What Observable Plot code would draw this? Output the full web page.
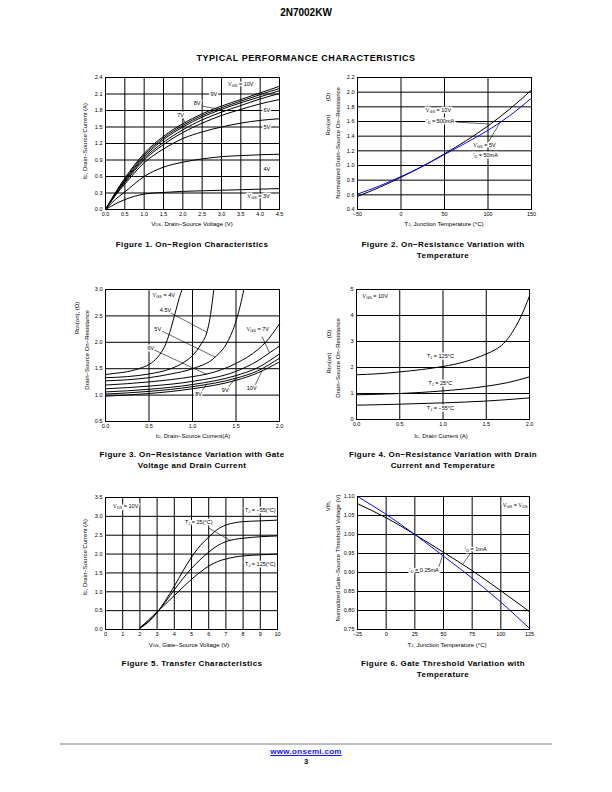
<!DOCTYPE html>
<html><head><meta charset="utf-8">
<script src="https://cdn.jsdelivr.net/npm/d3@7"></script>
<script src="https://cdn.jsdelivr.net/npm/@observablehq/plot@0.6"></script>
<style>
body{margin:0;background:#fff;}
#page{position:relative;width:612px;height:792px;font-family:"Liberation Sans",Arial,Helvetica,sans-serif;color:#000;overflow:hidden;background:#fff}
.abs{position:absolute;white-space:nowrap;line-height:1}
</style></head><body><div id="page"></div>
<script>
// ---------------- DATA ----------------
// Figure 1: ID vs VDS for several VGS
const f1VDS = [0, 0.25, 0.5, 1.0, 1.5, 2.0, 2.5, 3.0, 3.5, 4.0, 4.5];
const f1VGS = ["10V", "9V", "8V", "7V", "6V", "5V", "4V", "3V"];
const f1ID_10V = [0, 0.30, 0.57, 1.02, 1.33, 1.56, 1.74, 1.88, 2.00, 2.12, 2.24];
const f1ID_9V  = [0, 0.29, 0.55, 0.99, 1.30, 1.53, 1.71, 1.85, 1.97, 2.09, 2.20];
const f1ID_8V  = [0, 0.28, 0.53, 0.96, 1.27, 1.50, 1.68, 1.82, 1.94, 2.05, 2.16];
const f1ID_7V  = [0, 0.27, 0.51, 0.93, 1.22, 1.45, 1.63, 1.77, 1.89, 2.01, 2.11];
const f1ID_6V  = [0, 0.26, 0.49, 0.90, 1.18, 1.40, 1.57, 1.71, 1.82, 1.92, 2.00];
const f1ID_5V  = [0, 0.25, 0.46, 0.85, 1.10, 1.29, 1.41, 1.50, 1.57, 1.62, 1.65];
const f1ID_4V  = [0, 0.18, 0.32, 0.60, 0.77, 0.86, 0.92, 0.96, 0.98, 0.995, 1.005];
const f1ID_3V  = [0, 0.10, 0.18, 0.28, 0.31, 0.33, 0.34, 0.35, 0.36, 0.37, 0.38];
const f1Series = [f1ID_10V, f1ID_9V, f1ID_8V, f1ID_7V, f1ID_6V, f1ID_5V, f1ID_4V, f1ID_3V];

// Figure 2: normalized RDS(on) vs TJ
const f2TJ = [-50, -25, 0, 25, 50, 75, 100, 125, 150];
const f2R_10V_500mA = [0.58, 0.70, 0.84, 0.99, 1.16, 1.34, 1.54, 1.77, 2.03];
const f2R_5V_50mA   = [0.61, 0.72, 0.85, 0.99, 1.15, 1.31, 1.48, 1.68, 1.92];

// Figure 3: RDS(on) vs ID for several VGS  ([ID, R] pairs)
const f3_4V   = [[0,1.39],[0.1,1.41],[0.2,1.43],[0.3,1.46],[0.4,1.51],[0.5,1.58],[0.6,1.72],[0.7,2.0],[0.75,2.25],[0.8,2.55],[0.85,2.85],[0.88,3.0]];
const f3_4p5V = [[0,1.33],[0.25,1.35],[0.5,1.40],[0.75,1.50],[0.9,1.62],[1.0,1.75],[1.1,1.97],[1.167,2.2],[1.2,2.45],[1.23,2.8],[1.245,3.0]];
const f3_5V   = [[0,1.27],[0.25,1.29],[0.5,1.33],[0.75,1.40],[1.0,1.50],[1.26,1.72],[1.4,2.0],[1.5,2.4],[1.55,2.7],[1.59,3.0]];
const f3_6V   = [[0,1.19],[0.5,1.25],[1.0,1.35],[1.167,1.40],[1.5,1.60],[1.75,1.86],[1.84,2.0],[2.0,2.35]];
const f3_7V   = [[0,1.12],[0.5,1.17],[1.0,1.26],[1.5,1.45],[1.75,1.65],[1.885,1.80],[2.0,1.93]];
const f3_8V   = [[0,1.06],[0.5,1.11],[1.0,1.20],[1.5,1.37],[1.75,1.52],[2.0,1.78]];
const f3_9V   = [[0,1.02],[0.5,1.07],[1.0,1.16],[1.5,1.32],[1.75,1.46],[2.0,1.70]];
const f3_10V  = [[0,0.98],[0.5,1.03],[1.0,1.12],[1.5,1.28],[1.75,1.42],[2.0,1.63]];
const f3Series = [f3_4V, f3_4p5V, f3_5V, f3_6V, f3_7V, f3_8V, f3_9V, f3_10V];

// Figure 4: RDS(on) vs ID for three temperatures ([ID, R] pairs)
const f4_125C = [[0,1.72],[0.25,1.76],[0.5,1.83],[0.75,1.92],[1.0,2.04],[1.25,2.22],[1.5,2.52],[1.6,2.68],[1.7,2.92],[1.8,3.35],[1.9,3.95],[2.0,4.75]];
const f4_25C  = [[0,0.95],[0.5,1.00],[1.0,1.10],[1.5,1.28],[1.75,1.42],[2.0,1.64]];
const f4_m55C = [[0,0.55],[0.5,0.59],[1.0,0.64],[1.5,0.71],[2.0,0.83]];
const f4Series = [f4_125C, f4_25C, f4_m55C];

// Figure 5: transfer characteristics
const f5VGS = [2, 2.5, 3, 3.5, 4, 4.5, 5, 5.5, 6, 6.5, 7, 7.5, 8, 9, 10];
const f5ID_m55C = [0.03, 0.20, 0.45, 0.78, 1.15, 1.55, 1.92, 2.22, 2.45, 2.65, 2.77, 2.83, 2.86, 2.88, 2.90];
const f5ID_25C  = [0.04, 0.22, 0.45, 0.74, 1.05, 1.35, 1.62, 1.85, 2.05, 2.22, 2.33, 2.39, 2.42, 2.46, 2.48];
const f5ID_125C = [0.05, 0.25, 0.47, 0.68, 0.90, 1.12, 1.33, 1.52, 1.68, 1.80, 1.87, 1.92, 1.95, 1.98, 2.00];
const f5Series = [f5ID_m55C, f5ID_25C, f5ID_125C];

// Figure 6: normalized Vth vs TJ
const f6TJ = [-25, 0, 25, 50, 75, 100, 125];
const f6Vth_1mA    = [1.081, 1.044, 1.0, 0.953, 0.905, 0.852, 0.797];
const f6Vth_0p25mA = [1.100, 1.053, 1.0, 0.943, 0.885, 0.822, 0.753];

// Tick values
const f1XTicks = [0, 0.5, 1.0, 1.5, 2.0, 2.5, 3.0, 3.5, 4.0, 4.5];
const f1YTicks = [0, 0.3, 0.6, 0.9, 1.2, 1.5, 1.8, 2.1, 2.4];
const f2XTicks = [-50, 0, 50, 100, 150];
const f2YTicks = [0.4, 0.6, 0.8, 1.0, 1.2, 1.4, 1.6, 1.8, 2.0, 2.2];
const f3XTicks = [0, 0.5, 1.0, 1.5, 2.0];
const f3YTicks = [0.5, 1.0, 1.5, 2.0, 2.5, 3.0];
const f4XTicks = [0, 0.5, 1.0, 1.5, 2.0];
const f4YTicks = [0, 1, 2, 3, 4, 5];
const f5XTicks = [0, 1, 2, 3, 4, 5, 6, 7, 8, 9, 10];
const f5YTicks = [0, 0.5, 1.0, 1.5, 2.0, 2.5, 3.0, 3.5];
const f6XTicks = [-25, 0, 25, 50, 75, 100, 125];
const f6YTicks = [0.75, 0.80, 0.85, 0.90, 0.95, 1.00, 1.05, 1.10];

// Annotations (data coordinates)
const f1Notes = [
  {x: 3.50, y: 2.28, t: "V_{GS} = 10V"}, {x: 2.80, y: 2.09, t: "9V"}, {x: 2.37, y: 1.93, t: "8V"},
  {x: 1.94, y: 1.72, t: "7V"}, {x: 4.17, y: 1.81, t: "6V"}, {x: 4.17, y: 1.49, t: "5V"},
  {x: 4.17, y: 0.73, t: "4V"}, {x: 3.96, y: 0.24, t: "V_{GS} = 3V"}];
const f1Leaders = [{x1: 2.50, y1: 1.88, x2: 2.97, y2: 1.82}, {x1: 2.0, y1: 1.65, x2: 2.09, y2: 1.56}];
const f2Notes = [
  {x: 43, y: 1.75, t: "V_{GS} = 10V"}, {x: 45, y: 1.61, t: "I_{D} = 500mA"},
  {x: 96, y: 1.27, t: "V_{GS} = 5V"}, {x: 97, y: 1.14, t: "I_{D} = 50mA"}];
const f2Leaders = [{x1: 64, y1: 1.59, x2: 101, y2: 1.567}, {x1: 101, y1: 1.33, x2: 114, y2: 1.59}];
const f3Notes = [
  {x: 0.67, y: 2.90, t: "V_{GS} = 4V"}, {x: 0.69, y: 2.60, t: "4.5V"}, {x: 0.60, y: 2.24, t: "5V"},
  {x: 0.52, y: 1.89, t: "6V"}, {x: 1.75, y: 2.24, t: "V_{GS} = 7V"}, {x: 1.07, y: 1.01, t: "8V"},
  {x: 1.376, y: 1.10, t: "9V"}, {x: 1.68, y: 1.13, t: "10V"}];
const f3Leaders = [
  {x1: 0.745, y1: 2.56, x2: 1.167, y2: 2.19}, {x1: 0.65, y1: 2.21, x2: 1.262, y2: 1.72},
  {x1: 0.555, y1: 1.86, x2: 1.167, y2: 1.39}, {x1: 1.80, y1: 2.11, x2: 1.885, y2: 1.80},
  {x1: 1.10, y1: 1.06, x2: 1.167, y2: 1.22}, {x1: 1.41, y1: 1.15, x2: 1.49, y2: 1.31},
  {x1: 1.72, y1: 1.19, x2: 1.80, y2: 1.46}];
const f4Notes = [
  {x: 0.97, y: 2.44, t: "T_{J} = 125°C"}, {x: 0.97, y: 1.41, t: "T_{J} = 25°C"}, {x: 0.97, y: 0.42, t: "T_{J} = −55°C"}];
const f4NotesStart = [{x: 0.07, y: 4.74, t: "V_{GS} = 10V"}];
const f5Notes = [
  {x: 9.0, y: 3.15, t: "T_{J} = −55(°C)"}, {x: 5.42, y: 2.84, t: "T_{J} = 25(°C)"}, {x: 9.0, y: 1.72, t: "T_{J} = 125(°C)"}];
const f5NotesStart = [{x: 0.45, y: 3.28, t: "V_{DS} = 10V"}];
const f5Leaders = [{x1: 6.0, y1: 2.69, x2: 7.29, y2: 2.35}];
const f6Notes = [
  {x: 112.6, y: 1.076, t: "V_{GS} = V_{DS}"}, {x: 78, y: 0.962, t: "I_{D} = 1mA"}, {x: 33, y: 0.907, t: "I_{D} = 0.25mA"}];
const f6Leaders = [{x1: 73.5, y1: 0.951, x2: 67.1, y2: 0.923}, {x1: 46, y1: 0.915, x2: 49, y2: 0.944}];

// ---------------- RENDER ----------------
const FONT = "'Liberation Sans', Arial, Helvetica, sans-serif";
const page = document.getElementById("page");
const NS = "http://www.w3.org/2000/svg";

function richify(root) {
  root.querySelectorAll("text, tspan").forEach(el => {
    if (el.children.length) return;
    const s = el.textContent;
    if (!s.includes("_{")) return;
    el.textContent = "";
    for (const p of s.split(/(_\{[^}]*\})/)) {
      if (!p) continue;
      const t = document.createElementNS(NS, "tspan");
      if (p.startsWith("_{")) {
        t.textContent = p.slice(2, -1);
        t.setAttribute("baseline-shift", "-25%");
        t.setAttribute("font-size", "70%");
      } else t.textContent = p;
      el.appendChild(t);
    }
  });
}

function place(html, cx, cy, style) {
  const d = document.createElement("div");
  d.className = "abs";
  d.innerHTML = html;
  d.style.left = cx + "px";
  d.style.top = cy + "px";
  d.style.transform = "translate(-50%,-50%)";
  Object.assign(d.style, style || {});
  page.appendChild(d);
}

const pairRows = (series, names) => series.flatMap((s, k) => s.map(([x, y]) => ({g: names[k], x, y})));
const colRows = (xs, series, names) => series.flatMap((s, k) => xs.map((x, i) => ({g: names[k], x, y: s[i]})));

function notes(data, anchor) {
  return Plot.text(data, {x: "x", y: "y", text: "t", textAnchor: anchor || "middle", fontSize: 5.5,
    fill: "black", stroke: "white", strokeWidth: 3, paintOrder: "stroke"});
}
function leaders(data) {
  return Plot.link(data, {x1: "x1", y1: "y1", x2: "x2", y2: "y2", stroke: "black", strokeWidth: 0.6});
}

function makeChart(cfg) {
  const ML = 40, MR = 10, MT = 8, MB = 34;
  const {l, r, t, b} = cfg.box;
  const W = r - l + ML + MR, H = b - t + MT + MB;
  const svg = Plot.plot({
    width: W, height: H, marginLeft: ML, marginRight: MR, marginTop: MT, marginBottom: MB,
    style: {fontFamily: FONT, fontSize: "5.5px", background: "transparent", overflow: "visible"},
    x: {domain: cfg.x.domain, label: null},
    y: {domain: cfg.y.domain, label: null},
    marks: [
      Plot.gridX({ticks: cfg.x.ticks, stroke: "#000", strokeOpacity: 1, strokeWidth: 1}),
      Plot.gridY({ticks: cfg.y.ticks, stroke: "#000", strokeOpacity: 1, strokeWidth: 1}),
      Plot.axisX({ticks: cfg.x.ticks, tickSize: 0, tickPadding: 3, tickFormat: cfg.x.fmt, label: null, fontSize: 5.5}),
      Plot.axisY({ticks: cfg.y.ticks, tickSize: 0, tickPadding: 3, tickFormat: cfg.y.fmt, label: null, fontSize: 5.5}),
      ...cfg.marks,
      Plot.frame({stroke: "#000", strokeWidth: 1})
    ]
  });
  const ox = l - ML, oy = t - MT;
  svg.style.position = "absolute";
  svg.style.left = ox + "px";
  svg.style.top = oy + "px";
  const g = d3.select(svg);
  for (const L of cfg.labels) {
    const tx = g.append("text")
      .attr("font-size", 6).attr("font-family", FONT).attr("fill", "black")
      .attr("text-anchor", "middle").attr("dominant-baseline", "middle");
    if (L.rot) tx.attr("transform", `translate(${L.x - ox},${L.y - oy}) rotate(-90)`);
    else tx.attr("x", L.x - ox).attr("y", L.y - oy);
    tx.text(L.text);
  }
  richify(svg);
  page.appendChild(svg);
}

const f1 = d3.format(".1f"), f0 = d3.format("d"), f2 = d3.format(".2f");
const BLUE = "#0a0aff";

// Figure 1
makeChart({
  box: {l: 105, r: 279, t: 77, b: 209},
  x: {domain: [0, 4.5], ticks: f1XTicks, fmt: f1},
  y: {domain: [0, 2.4], ticks: f1YTicks, fmt: f1},
  marks: [
    Plot.line(colRows(f1VDS, f1Series, f1VGS), {x: "x", y: "y", z: "g", stroke: "black", strokeWidth: 1, curve: "monotone-x"}),
    leaders(f1Leaders), notes(f1Notes)
  ],
  labels: [
    {x: 192, y: 224, text: "V_{DS}, Drain−Source Voltage (V)"},
    {x: 85, y: 141, rot: true, text: "I_{D}, Drain−Source Current (A)"}
  ]
});

// Figure 2
makeChart({
  box: {l: 357, r: 531, t: 77, b: 209},
  x: {domain: [-50, 150], ticks: f2XTicks, fmt: f0},
  y: {domain: [0.4, 2.2], ticks: f2YTicks, fmt: f1},
  marks: [
    Plot.line(f2TJ, {x: d => d, y: (d, i) => f2R_10V_500mA[i], stroke: "black", strokeWidth: 1, curve: "monotone-x"}),
    Plot.line(f2TJ, {x: d => d, y: (d, i) => f2R_5V_50mA[i], stroke: BLUE, strokeWidth: 1, curve: "monotone-x"}),
    leaders(f2Leaders), notes(f2Notes)
  ],
  labels: [
    {x: 444, y: 224, text: "T_{J}, Junction Temperature (°C)"},
    {x: 328, y: 125, rot: true, text: "R_{DS}(on)"},
    {x: 328, y: 97, rot: true, text: "(Ω)"},
    {x: 338, y: 143, rot: true, text: "Normalized Drain−Source On−Resistance"}
  ]
});

// Figure 3
makeChart({
  box: {l: 105, r: 279, t: 289, b: 421},
  x: {domain: [0, 2.0], ticks: f3XTicks, fmt: f1},
  y: {domain: [0.5, 3.0], ticks: f3YTicks, fmt: f1},
  marks: [
    Plot.line(pairRows(f3Series, ["4V", "4.5V", "5V", "6V", "7V", "8V", "9V", "10V"]), {x: "x", y: "y", z: "g", stroke: "black", strokeWidth: 1, curve: "monotone-x"}),
    leaders(f3Leaders), notes(f3Notes)
  ],
  labels: [
    {x: 193, y: 436, text: "I_{D}, Drain−Source Current(A)"},
    {x: 77, y: 318, rot: true, text: "R_{DS}(on), (Ω)"},
    {x: 87, y: 350, rot: true, text: "Drain−Source On−Resistance"}
  ]
});

// Figure 4
makeChart({
  box: {l: 356, r: 529, t: 289, b: 419},
  x: {domain: [0, 2.0], ticks: f4XTicks, fmt: f1},
  y: {domain: [0, 5], ticks: f4YTicks, fmt: f0},
  marks: [
    Plot.line(pairRows(f4Series, ["125", "25", "-55"]), {x: "x", y: "y", z: "g", stroke: "black", strokeWidth: 1, curve: "monotone-x"}),
    notes(f4Notes), notes(f4NotesStart, "start")
  ],
  labels: [
    {x: 441, y: 436, text: "I_{D}, Drain Current (A)"},
    {x: 329, y: 363, rot: true, text: "R_{DS}(on)"},
    {x: 329, y: 334, rot: true, text: "(Ω)"},
    {x: 338, y: 358, rot: true, text: "Drain−Source On−Resistance"}
  ]
});

// Figure 5
makeChart({
  box: {l: 105, r: 277, t: 497, b: 629},
  x: {domain: [0, 10], ticks: f5XTicks, fmt: f0},
  y: {domain: [0, 3.5], ticks: f5YTicks, fmt: f1},
  marks: [
    Plot.line(colRows(f5VGS, f5Series, ["-55", "25", "125"]), {x: "x", y: "y", z: "g", stroke: "black", strokeWidth: 1, curve: "monotone-x"}),
    leaders(f5Leaders), notes(f5Notes), notes(f5NotesStart, "start")
  ],
  labels: [
    {x: 189, y: 645, text: "V_{GS}, Gate−Source Voltage (V)"},
    {x: 85, y: 557, rot: true, text: "I_{D}, Drain−Source Current (A)"}
  ]
});

// Figure 6
makeChart({
  box: {l: 357, r: 529, t: 496, b: 629},
  x: {domain: [-25, 125], ticks: f6XTicks, fmt: f0},
  y: {domain: [0.75, 1.10], ticks: f6YTicks, fmt: f2},
  marks: [
    Plot.line(f6TJ, {x: d => d, y: (d, i) => f6Vth_1mA[i], stroke: "black", strokeWidth: 1, curve: "monotone-x"}),
    Plot.line(f6TJ, {x: d => d, y: (d, i) => f6Vth_0p25mA[i], stroke: BLUE, strokeWidth: 1, curve: "monotone-x"}),
    leaders(f6Leaders), notes(f6Notes)
  ],
  labels: [
    {x: 447, y: 645, text: "T_{J}, Junction Temperature (°C)"},
    {x: 328, y: 506, rot: true, text: "Vth,"},
    {x: 338, y: 558, rot: true, text: "Normalized Gate−Source Threshold Voltage (V)"}
  ]
});

// Page text
const capStyle = {fontWeight: "bold", fontSize: "8px", letterSpacing: "0.4px"};
place("2N7002KW", 306, 13, {fontWeight: "bold", fontSize: "10px"});
place("TYPICAL PERFORMANCE CHARACTERISTICS", 306, 58, {fontWeight: "bold", fontSize: "9px", letterSpacing: "0.55px"});
place("Figure 1. On−Region Characteristics", 192, 245, capStyle);
place("Figure 2. On−Resistance Variation with", 443, 245, capStyle);
place("Temperature", 443, 256, capStyle);
place("Figure 3. On−Resistance Variation with Gate", 192, 455, capStyle);
place("Voltage and Drain Current", 192, 466, capStyle);
place("Figure 4. On−Resistance Variation with Drain", 443, 455, capStyle);
place("Current and Temperature", 443, 466, capStyle);
place("Figure 5. Transfer Characteristics", 192, 664, capStyle);
place("Figure 6. Gate Threshold Variation with", 443, 664, capStyle);
place("Temperature", 443, 675, capStyle);
const rule = document.createElement("div");
Object.assign(rule.style, {position: "absolute", left: "60px", top: "743px", width: "492px", height: "2px", background: "#bdbdbd"});
page.appendChild(rule);
place("www.onsemi.com", 306, 752, {fontWeight: "bold", fontSize: "8px", letterSpacing: "0.3px", color: "#1515ff", textDecoration: "underline"});
place("3", 306, 762, {fontWeight: "bold", fontSize: "7.5px"});
</script>
</body></html>
